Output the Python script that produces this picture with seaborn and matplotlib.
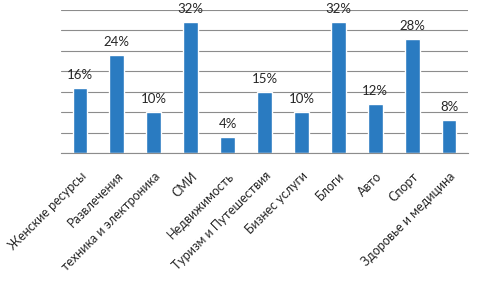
import matplotlib
matplotlib.use("Agg")
import matplotlib.pyplot as plt
import seaborn as sns
import pandas as pd

categories = ["Женские ресурсы", "Развлечения", "техника и электроника", "СМИ",
              "Недвижимость", "Туризм и Путешествия", "Бизнес услуги", "Блоги",
              "Авто", "Спорт", "Здоровье и медицина"]
values = [16, 24, 10, 32, 4, 15, 10, 32, 12, 28, 8]
labels = ["16%", "24%", "10%", "32%", "4%", "15%", "10%", "32%", "12%", "28%", "8%"]

df = pd.DataFrame({"cat": categories, "val": values})

sns.set_style("white")
plt.rcParams["font.family"] = ["Lato", "DejaVu Sans"]

fig = plt.figure(figsize=(4.8, 2.9), dpi=100)
ax = fig.add_axes([0.128, 0.472, 0.846, 0.494])
sns.barplot(data=df, x="cat", y="val", color="#2a7bc1", width=0.4, ax=ax,
            saturation=1)
ax.set_ylim(0, 35)
ax.set_xlim(-0.5, len(categories) - 0.5)
ax.set_yticks(range(0, 36, 5))
ax.yaxis.grid(True, color="#8c8c8c", linewidth=0.8)
ax.set_axisbelow(True)
ax.set_yticklabels([])
ax.tick_params(axis="y", length=0)
for s in ["top", "right", "left"]:
    ax.spines[s].set_visible(False)
ax.spines["bottom"].set_color("#8c8c8c")
ax.set_xlabel("")
ax.set_ylabel("")

ax.set_xticks([i - 0.5 for i in range(len(categories) + 1)], minor=True)
ax.tick_params(axis="x", which="minor", length=4, color="#8c8c8c", direction="out")
ax.tick_params(axis="x", which="major", length=0, pad=12)
ax.set_xticks(range(len(categories)))
ax.set_xticklabels(categories, rotation=45, ha="right", rotation_mode="anchor",
                   fontsize=9)

for i, (v, t) in enumerate(zip(values, labels)):
    ax.annotate(t, (i, v), xytext=(0, 5), textcoords="offset points",
                ha="center", va="bottom", fontsize=9.5)

fig.savefig("out.png", dpi=100, facecolor="white")
